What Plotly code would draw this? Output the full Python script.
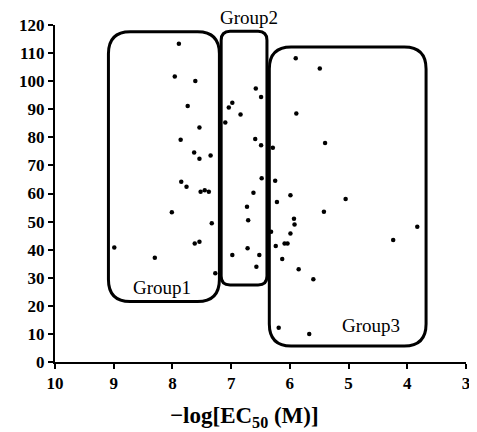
import plotly.graph_objects as go

# -log[EC50 (M)] and response values
x_vals = [
    8.99, 8.30, 7.89, 7.96, 7.61, 7.74, 7.54, 7.86, 7.63, 7.54, 7.35, 7.85, 7.76,
    7.52, 7.45, 7.38, 8.01, 7.33, 7.62, 7.54, 7.27,
    7.10, 7.04, 6.98, 6.84, 6.58, 6.49, 6.59, 6.49, 6.48, 6.62, 6.73, 6.71, 6.72,
    6.98, 6.52, 6.57,
    6.29, 6.25, 6.22, 5.99, 5.90, 5.89, 5.93, 5.92, 5.99, 6.32, 6.24, 6.09, 6.04,
    6.13, 5.85, 5.60, 6.19, 5.67, 5.49, 5.40, 5.05, 5.42, 3.83, 4.24,
]
y_vals = [
    40.8, 37.1, 113.3, 101.7, 100.1, 91.2, 83.5, 79.1, 74.6, 72.4, 73.5, 64.2, 62.4,
    60.6, 61.2, 60.6, 53.3, 49.4, 42.2, 42.8, 31.6,
    85.3, 90.6, 92.3, 88.1, 97.4, 94.4, 79.4, 77.2, 65.4, 60.3, 55.3, 50.5, 40.5,
    38.1, 38.1, 33.9,
    76.3, 64.5, 57.0, 59.4, 108.2, 88.5, 51.0, 49.0, 45.8, 46.4, 41.3, 42.2, 42.2,
    36.7, 33.0, 29.5, 12.2, 10.0, 104.5, 78.0, 58.0, 53.5, 48.2, 43.4,
]

x_ticks = [10, 9, 8, 7, 6, 5, 4, 3]
y_ticks = [0, 10, 20, 30, 40, 50, 60, 70, 80, 90, 100, 110, 120]

group_names = ["Group1", "Group2", "Group3"]
# box extents (x_left, x_right, y_bottom, y_top) in data units
group_boxes = [
    (9.09, 7.20, 21.5, 117.6),
    (7.17, 6.39, 27.4, 117.8),
    (6.35, 3.68, 5.7, 112.2),
]
group_label_pos = [(8.18, 26.5), (6.69, 122.8), (4.62, 13.0)]
corner_px = [22, 9, 22]

SERIF = "Liberation Serif, Times New Roman, DejaVu Serif, serif"

W, H = 469, 424
L, R, T, B = 47, 7, 17, 70
x_range = [10, 3]
y_range = [0, 120]
px_per_x = (W - L - R) / abs(x_range[1] - x_range[0])
px_per_y = (H - T - B) / (y_range[1] - y_range[0])


def rounded_path(xl, xr, yb, yt, r_px):
    rx = r_px / px_per_x  # x axis reversed: left has larger value
    ry = r_px / px_per_y
    return (
        f"M {xl-rx},{yt} L {xr+rx},{yt} Q {xr},{yt} {xr},{yt-ry} "
        f"L {xr},{yb+ry} Q {xr},{yb} {xr+rx},{yb} "
        f"L {xl-rx},{yb} Q {xl},{yb} {xl},{yb+ry} "
        f"L {xl},{yt-ry} Q {xl},{yt} {xl-rx},{yt} Z"
    )


fig = go.Figure()
fig.add_trace(go.Scatter(
    x=x_vals, y=y_vals, mode="markers",
    marker=dict(color="black", size=4.5),
    showlegend=False, cliponaxis=False,
))

shapes = []
for (xl, xr, yb, yt), r in zip(group_boxes, corner_px):
    shapes.append(dict(
        type="path", xref="x", yref="y",
        path=rounded_path(xl, xr, yb, yt, r),
        line=dict(color="black", width=3),
        fillcolor="rgba(0,0,0,0)",
        layer="above",
    ))

annotations = []
for name, (gx, gy) in zip(group_names, group_label_pos):
    annotations.append(dict(
        x=gx, y=(gy - y_range[0]) / (y_range[1] - y_range[0]),
        xref="x", yref="paper", text=name, showarrow=False,
        xanchor="center", yanchor="middle",
        font=dict(family=SERIF, size=19, color="black"),
    ))
annotations.append(dict(
    x=0.46, y=-0.163, xref="paper", yref="paper",
    text="<b>\u2212log[EC<sub>50</sub> (M)]</b>", showarrow=False,
    font=dict(family=SERIF, size=23, color="black"),
    xanchor="center", yanchor="middle",
))

tickfont = dict(family=SERIF, size=17, color="black", weight="bold")

fig.update_layout(
    width=W, height=H,
    margin=dict(l=L, r=R, t=T, b=B),
    paper_bgcolor="white", plot_bgcolor="white",
    shapes=shapes, annotations=annotations,
    font=dict(family=SERIF, color="black"),
    xaxis=dict(
        range=x_range, tickvals=x_ticks, ticktext=[str(v) for v in x_ticks],
        showgrid=False, zeroline=False, showline=True, linecolor="black", linewidth=2,
        ticks="outside", ticklen=5, tickwidth=2, tickcolor="black",
        tickfont=tickfont,
    ),
    yaxis=dict(
        range=y_range, tickvals=y_ticks, ticktext=[str(v) for v in y_ticks],
        showgrid=False, zeroline=False, showline=True, linecolor="black", linewidth=2,
        ticks="outside", ticklen=5, tickwidth=2, tickcolor="black",
        tickfont=tickfont,
    ),
)

fig.write_html("out.html")
